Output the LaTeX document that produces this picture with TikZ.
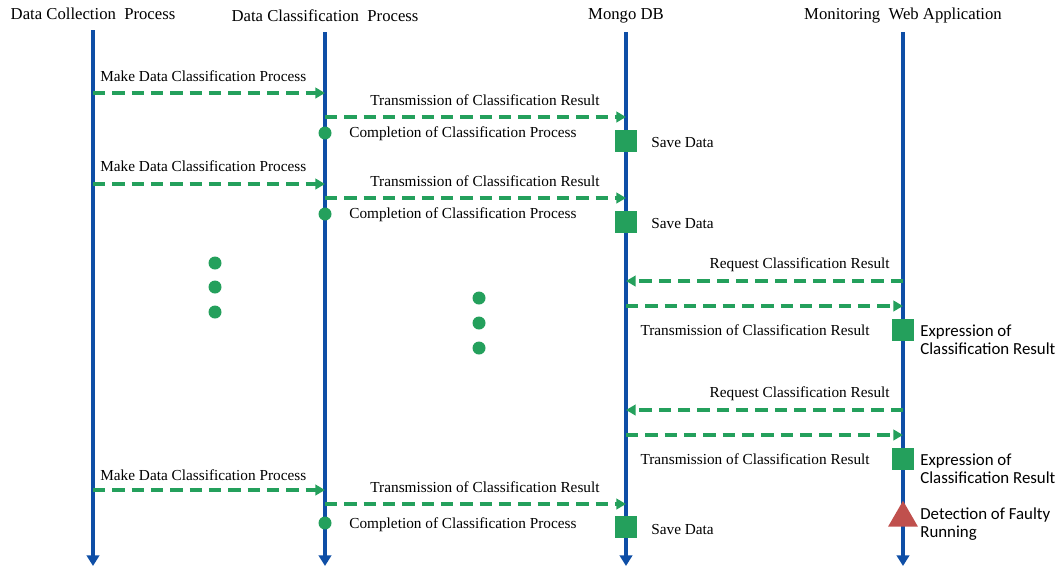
\documentclass[tikz,border=0pt]{standalone}
\usepackage{fontspec}
\setmainfont{Liberation Serif}
\newfontfamily\calfont{Carlito}
\usetikzlibrary{arrows.meta,shapes.geometric}

\definecolor{lifeblue}{RGB}{14,78,166}
\definecolor{msggreen}{RGB}{36,160,92}
\definecolor{faultred}{RGB}{192,80,77}

\tikzset{
  head/.style={font=\fontsize{9.5}{11}\selectfont, inner sep=0pt},
  lbl/.style={font=\fontsize{8.7}{10}\selectfont, inner sep=0pt},
  note/.style={font=\calfont\fontsize{9.6}{10.3}\selectfont, inner sep=0pt, align=left, anchor=west},
  life/.style={lifeblue, line width=2.3pt, -{Triangle[length=6pt,width=7pt]}},
  msg/.style={msggreen, line width=1.9pt, dash pattern=on 7pt off 4pt, -{Triangle[length=5.5pt,width=6pt]}},
  done/.style={circle, fill=msggreen, inner sep=0pt, minimum size=0.26cm},
  dot/.style={circle, fill=msggreen, inner sep=0pt, minimum size=0.26cm},
  savebox/.style={rectangle, fill=msggreen, inner sep=0pt, minimum size=0.44cm},
  fault/.style={regular polygon, regular polygon sides=3, fill=faultred, inner sep=0pt, minimum size=0.69cm}
}

\begin{document}
\begin{tikzpicture}[x=0.02cm, y=-0.02cm]
  \useasboundingbox (0,0) rectangle (1061,566);

  \node[head] (hcol) at (93,14) {Data Collection\ \ Process};
  \node[head] (hcls) at (325,16) {Data Classification\ \ Process};
  \node[head] (hdb) at (626,16) {Mongo\ DB};
  \node[head] (hweb) at (903,16) {Monitoring\ \ Web Application};

  \coordinate (col-top) at (93,30);
  \coordinate (col-bot) at (93,566);
  \coordinate (cls-top) at (325,32);
  \coordinate (cls-bot) at (325,566);
  \coordinate (db-top) at (626,32);
  \coordinate (db-bot) at (626,566);
  \coordinate (web-top) at (903,32);
  \coordinate (web-bot) at (903,566);
  \draw[life] (col-top) -- (col-bot);
  \draw[life] (cls-top) -- (cls-bot);
  \draw[life] (db-top) -- (db-bot);
  \draw[life] (web-top) -- (web-bot);

  % first round
  \coordinate (a1) at (93,93);
  \coordinate (b1) at (325,93);
  \draw[msg] (a1) -- (b1);
  \node[lbl, anchor=west] (mk1) at (100,76) {Make Data Classification Process};
  \coordinate (c1) at (325,117);
  \coordinate (d1) at (626,117);
  \draw[msg] (c1) -- (d1);
  \node[lbl] (tr1) at (485,100) {Transmission of Classification Result};
  \node[done] (e1) at (325,133) {};
  \node[lbl, anchor=west] (cp1) at (349,134) {Completion of Classification Process};
  \node[savebox] (s1) at (626,141) {};
  \node[lbl, anchor=west] (sv1) at (651,143) {Save Data};

  % second round
  \coordinate (a2) at (93,184);
  \coordinate (b2) at (325,184);
  \draw[msg] (a2) -- (b2);
  \node[lbl, anchor=west] (mk2) at (100,166) {Make Data Classification Process};
  \coordinate (c2) at (325,198);
  \coordinate (d2) at (626,198);
  \draw[msg] (c2) -- (d2);
  \node[lbl] (tr2) at (485,181) {Transmission of Classification Result};
  \node[done] (e2) at (325,214) {};
  \node[lbl, anchor=west] (cp2) at (349,215) {Completion of Classification Process};
  \node[savebox] (s2) at (626,222) {};
  \node[lbl, anchor=west] (sv2) at (651,224) {Save Data};

  \node[dot] (p1) at (215,263) {};
  \node[dot] (p2) at (215,287) {};
  \node[dot] (p3) at (215,312) {};
  \node[dot] (q1) at (479,298) {};
  \node[dot] (q2) at (479,323) {};
  \node[dot] (q3) at (479,348) {};

  % requests from the web application
  \coordinate (w1) at (903,281);
  \coordinate (g1) at (626,281);
  \draw[msg] (w1) -- (g1);
  \node[lbl, anchor=east] (rq1) at (890,265) {Request Classification\ Result};
  \coordinate (g2) at (626,306);
  \coordinate (w2) at (903,306);
  \draw[msg] (g2) -- (w2);
  \node[lbl, anchor=east] (rs1) at (870,330) {Transmission of Classification\ Result};
  \node[savebox] (x1) at (903,330) {};
  \node[note] (ex1) at (920,340) {Expression of\\Classification Result};

  \coordinate (w3) at (903,410);
  \coordinate (g3) at (626,410);
  \draw[msg] (w3) -- (g3);
  \node[lbl, anchor=east] (rq2) at (890,394) {Request Classification\ Result};
  \coordinate (g4) at (626,435);
  \coordinate (w4) at (903,435);
  \draw[msg] (g4) -- (w4);
  \node[lbl, anchor=east] (rs2) at (870,459) {Transmission of Classification\ Result};
  \node[savebox] (x2) at (903,459) {};
  \node[note] (ex2) at (920,469) {Expression of\\Classification Result};

  % last round
  \coordinate (a3) at (93,490);
  \coordinate (b3) at (325,490);
  \draw[msg] (a3) -- (b3);
  \node[lbl, anchor=west] (mk3) at (100,475) {Make Data Classification Process};
  \coordinate (c3) at (325,504);
  \coordinate (d3) at (626,504);
  \draw[msg] (c3) -- (d3);
  \node[lbl] (tr3) at (485,487) {Transmission of Classification Result};
  \node[done] (e3) at (325,523) {};
  \node[lbl, anchor=west] (cp3) at (349,525) {Completion of Classification Process};
  \node[savebox] (s3) at (626,527) {};
  \node[lbl, anchor=west] (sv3) at (651,529) {Save Data};

  \node[fault] (f1) at (903,518) {};
  \node[note] (dt1) at (920,524) {Detection of Faulty\\Running};
\end{tikzpicture}
\end{document}
